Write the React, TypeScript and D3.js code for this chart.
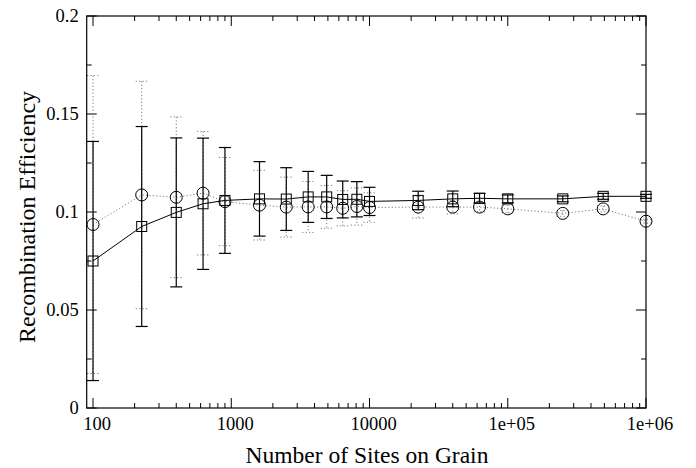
import React from "react";
import * as d3 from "d3";

const sites = [100, 225, 400, 625, 900, 1600, 2500, 3600, 4900, 6400, 8100, 10000, 22500, 40000, 62500, 100000, 250000, 490000, 1000000];
const squareY = [0.075, 0.0926, 0.0998, 0.1042, 0.1059, 0.1067, 0.1066, 0.1077, 0.1077, 0.1064, 0.1065, 0.1054, 0.1059, 0.1067, 0.107, 0.1067, 0.1067, 0.108, 0.108];
const squareErr = [0.061, 0.051, 0.038, 0.0335, 0.027, 0.019, 0.016, 0.013, 0.011, 0.0094, 0.009, 0.0072, 0.0047, 0.004, 0.0025, 0.002, 0.0015, 0.0015, 0.001];
const circleY = [0.0936, 0.1087, 0.1075, 0.1096, 0.1053, 0.1035, 0.1025, 0.1026, 0.1026, 0.1019, 0.1028, 0.1023, 0.1025, 0.1025, 0.1025, 0.1016, 0.0993, 0.1016, 0.0953];
const circleErr = [0.076, 0.058, 0.041, 0.0315, 0.0225, 0.0178, 0.0153, 0.013, 0.0109, 0.009, 0.0095, 0.0075, 0.0056, 0.0034, 0.0024, 0.002, 0.0015, 0.0015, 0.001];

const xMajorTicks = [100, 1000, 10000, 100000, 1000000];
const xTickLabels = ["100", "1000", "10000", "1e+05", "1e+06"];
const yMajorTicks = [0, 0.05, 0.1, 0.15, 0.2];
const yTickLabels = ["0", "0.05", "0.1", "0.15", "0.2"];
const yMinorTicks = [0.025, 0.075, 0.125, 0.175];

const W = 696, H = 468;
const L = 86.7, R = 646, T = 16, B = 408;
const FONT = "'Liberation Serif', 'Times New Roman', serif";

export default function App() {
  const x = d3.scaleLog().domain([90, 1e6]).range([L, R]);
  const y = d3.scaleLinear().domain([0, 0.2]).range([B, T]);

  const xMinor: number[] = [];
  [100, 1000, 10000, 100000].forEach((d) => {
    for (let k = 2; k <= 9; k++) xMinor.push(d * k);
  });

  const line = d3.line<[number, number]>().x((d) => x(d[0])).y((d) => y(d[1]));
  const sqData: [number, number][] = sites.map((s, i) => [s, squareY[i]]);
  const ciData: [number, number][] = sites.map((s, i) => [s, circleY[i]]);

  const majLen = 10, minLen = 5, cap = 6;
  const grey = "#7a7a7a";
  const dots = "1.2,2.2";

  return (
    <svg width={W} height={H} style={{ position: "absolute", left: 0, top: 0, background: "#fff" }}>
      <rect x={0} y={0} width={W} height={H} fill="#fff" />
      {/* ticks */}
      <g stroke="#000" strokeWidth={1}>
        {xMajorTicks.map((t) => (
          <g key={"xm" + t}>
            <line x1={x(t)} x2={x(t)} y1={B} y2={B - majLen} />
            <line x1={x(t)} x2={x(t)} y1={T} y2={T + majLen} />
          </g>
        ))}
        {xMinor.map((t) => (
          <g key={"xn" + t}>
            <line x1={x(t)} x2={x(t)} y1={B} y2={B - minLen} />
            <line x1={x(t)} x2={x(t)} y1={T} y2={T + minLen} />
          </g>
        ))}
        {yMajorTicks.map((t) => (
          <g key={"ym" + t}>
            <line x1={L} x2={L + majLen} y1={y(t)} y2={y(t)} />
            <line x1={R} x2={R - majLen} y1={y(t)} y2={y(t)} />
          </g>
        ))}
        {yMinorTicks.map((t) => (
          <g key={"yn" + t}>
            <line x1={L} x2={L + minLen} y1={y(t)} y2={y(t)} />
            <line x1={R} x2={R - minLen} y1={y(t)} y2={y(t)} />
          </g>
        ))}
      </g>
      {/* circle series: dotted */}
      <g stroke={grey} strokeWidth={1} strokeDasharray={dots} fill="none">
        {sites.map((s, i) => {
          const cx = x(s);
          const y1 = y(circleY[i] + circleErr[i]);
          const y2 = y(circleY[i] - circleErr[i]);
          return (
            <g key={"ce" + i}>
              <line x1={cx} x2={cx} y1={y1} y2={y2} />
              <line x1={cx - cap} x2={cx + cap} y1={y1} y2={y1} />
              <line x1={cx - cap} x2={cx + cap} y1={y2} y2={y2} />
            </g>
          );
        })}
        <path d={line(ciData) || ""} />
      </g>
      <g stroke="#000" strokeWidth={1} fill="none">
        {ciData.map((d, i) => (
          <circle key={"c" + i} cx={x(d[0])} cy={y(d[1])} r={6} />
        ))}
      </g>
      {/* square series: solid */}
      <g stroke="#000" strokeWidth={1.2} fill="none">
        {sites.map((s, i) => {
          const cx = x(s);
          const y1 = y(squareY[i] + squareErr[i]);
          const y2 = y(squareY[i] - squareErr[i]);
          return (
            <g key={"se" + i}>
              <line x1={cx} x2={cx} y1={y1} y2={y2} />
              <line x1={cx - cap} x2={cx + cap} y1={y1} y2={y1} />
              <line x1={cx - cap} x2={cx + cap} y1={y2} y2={y2} />
            </g>
          );
        })}
        <path d={line(sqData) || ""} strokeWidth={1} />
        {sqData.map((d, i) => (
          <rect key={"s" + i} x={x(d[0]) - 5} y={y(d[1]) - 5} width={10} height={10} strokeWidth={1} />
        ))}
      </g>
      {/* frame */}
      <rect x={L} y={T} width={R - L} height={B - T} fill="none" stroke="#000" strokeWidth={1.2} />
      {/* labels */}
      <g fontFamily={FONT} fontSize={18.5} fill="#000">
        {xMajorTicks.map((t, i) => (
          <text key={"xl" + t} x={x(t) + 4} y={430} textAnchor="middle">{xTickLabels[i]}</text>
        ))}
        {yMajorTicks.map((t, i) => (
          <text key={"yl" + t} x={L - 8} y={y(t) + 6} textAnchor="end">{yTickLabels[i]}</text>
        ))}
      </g>
      <text x={367} y={463} textAnchor="middle" fontFamily={FONT} fontSize={23.5}>Number of Sites on Grain</text>
      <text transform={`translate(27,217) rotate(-90)`} textAnchor="middle" fontFamily={FONT} fontSize={24} dominantBaseline="central">Recombination Efficiency</text>
    </svg>
  );
}
